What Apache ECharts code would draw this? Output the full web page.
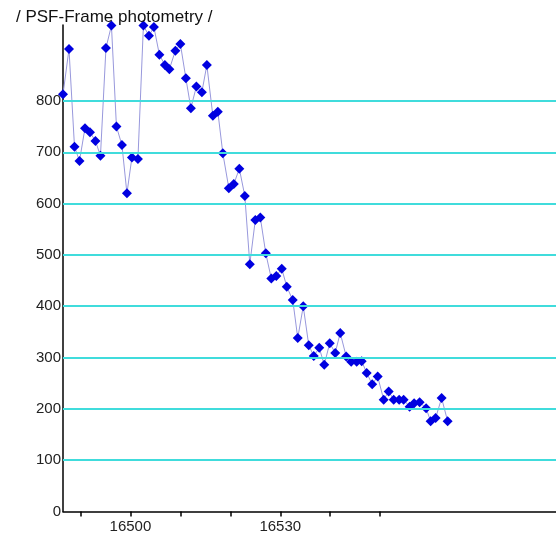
<!DOCTYPE html>
<html>
<head>
<meta charset="utf-8">
<script src="https://cdn.jsdelivr.net/npm/echarts@6/dist/echarts.min.js"></script>
<style>html,body{margin:0;padding:0;background:#fff;}#chart{width:556px;height:544px;}</style>
</head>
<body>
<div id="chart"></div>
<script>
const titleText = '/ PSF-Frame photometry /';
const xValues = [16486.5,16487.7,16488.8,16489.8,16490.9,16491.9,16493.0,16494.0,16495.1,16496.2,
16497.2,16498.3,16499.3,16500.3,16501.5,16502.6,16503.7,16504.7,16505.8,16506.9,
16507.8,16509.0,16510.0,16511.1,16512.1,16513.2,16514.3,16515.3,16516.5,16517.5,
16518.5,16519.7,16520.7,16521.8,16522.9,16523.9,16525.0,16526.0,16527.1,16528.2,
16529.2,16530.3,16531.3,16532.5,16533.5,16534.6,16535.7,16536.7,16537.8,16538.8,
16539.9,16541.0,16542.0,16543.2,16544.2,16545.3,16546.3,16547.3,16548.4,16549.5,
16550.7,16551.7,16552.7,16553.8,16554.7,16555.9,16556.8,16557.9,16559.2,16560.1,
16561.1,16562.3,16563.5];
const flux = [813,901,711,683,747,739,722,693,903,947,
750,714,620,690,687,947,927,944,890,870,
862,898,911,844,786,828,817,870,771,779,
698,630,638,668,615,482,568,573,503,454,
459,473,438,412,338,400,324,303,319,286,
328,309,348,302,292,292,293,270,248,263,
218,234,218,218,218,204,211,213,201,176,
182,221,176];
const yTicks = [0,100,200,300,400,500,600,700,800];
const xTicks = [16490,16500,16510,16520,16530,16540,16550];
const xLabels = [16500,16530];

const chart = echarts.init(document.getElementById('chart'), null, {renderer:'canvas'});
const font = 'Liberation Sans';
chart.setOption({
  animation:false,
  backgroundColor:'#fff',
  title:{text:titleText,left:11,top:4,textStyle:{fontFamily:font,fontSize:17,fontWeight:'normal',color:'#111'}},
  grid:{left:63,right:0,top:25,bottom:32.5,containLabel:false,outerBoundsMode:'none'},
  xAxis:{type:'value',min:16486.5,max:16585.2,
    axisLine:{show:true,lineStyle:{color:'#000',width:1.5}},
    axisTick:{show:true,length:5,customValues:xTicks,lineStyle:{color:'#000',width:1.5}},
    axisLabel:{customValues:xLabels,fontFamily:font,fontSize:15,color:'#222',margin:8,
      formatter:function(v){return String(v);}},
    splitLine:{show:false}},
  yAxis:{type:'value',min:0,max:948,interval:100,
    axisLine:{show:true,lineStyle:{color:'#000',width:1.5}},
    axisTick:{show:false},
    axisLabel:{fontFamily:font,fontSize:15,color:'#222',margin:2,
      formatter:function(v){return yTicks.indexOf(v)>=0?String(v):'';}},
    splitLine:{show:false}},
  series:[
    {type:'line',data:[],z:1,silent:true,
     markLine:{silent:true,symbol:['none','none'],label:{show:false},
       lineStyle:{color:'#40dcdc',width:2,type:'solid'},
       data:yTicks.filter(v=>v>0).map(v=>({yAxis:v}))}},
    {type:'line',z:3,clip:true,
     data:xValues.map((x,i)=>[x,flux[i]]),
     symbol:'diamond',symbolSize:10,showAllSymbol:true,
     itemStyle:{color:'#0000e0'},
     lineStyle:{color:'#9898dc',width:1}}
  ]
});
</script>
</body>
</html>
